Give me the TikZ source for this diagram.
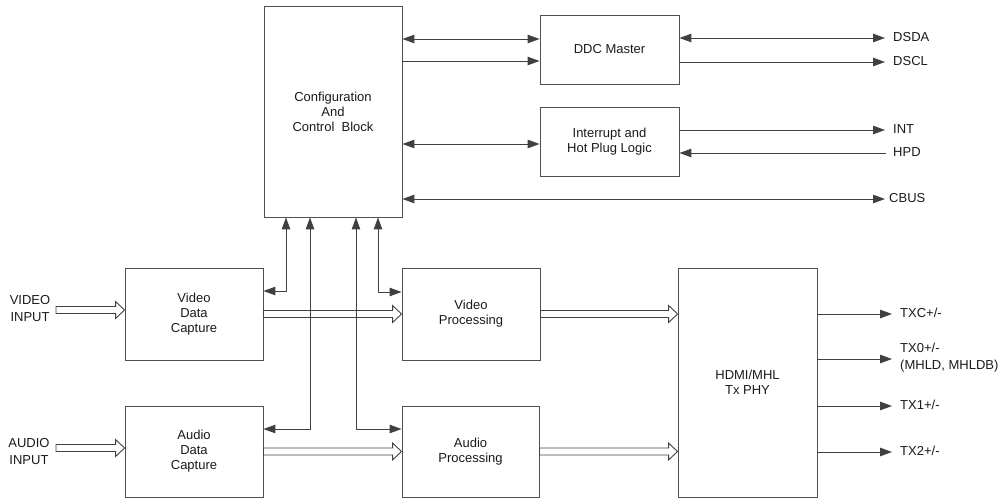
\documentclass[tikz,border=0pt]{standalone}
\usepackage{fontspec}
\setmainfont{Liberation Sans}
\usetikzlibrary{arrows.meta,calc}
\definecolor{linec}{HTML}{404040}
\definecolor{boxc}{HTML}{505050}
\definecolor{txtc}{HTML}{1A1A1A}
\begin{document}
\begin{tikzpicture}[x=1pt,y=-1pt,
  font=\fontsize{13}{15}\selectfont, text=txtc,
  box/.style={draw=boxc, line width=0.9pt, align=center, inner sep=0pt},
  sig/.style={draw=linec, line width=1pt, -{Triangle[length=12pt,width=8.5pt]}},
  bsig/.style={draw=linec, line width=1pt, {Triangle[length=12pt,width=8.5pt]}-{Triangle[length=12pt,width=8.5pt]}},
  rsig/.style={draw=linec, line width=1pt, {Triangle[length=12pt,width=8.5pt]}-},
  lbl/.style={anchor=west, inner sep=0pt, align=left},
  hollow/.style={draw=linec, line width=0.9pt, to path={let \p1=(\tikztostart), \p2=(\tikztotarget) in
     (\x1,\y1+3.5pt) -- (\x2-9pt,\y1+3.5pt) -- (\x2-9pt,\y1+8.5pt) -- (\x2,\y1) -- (\x2-9pt,\y1-8.5pt) -- (\x2-9pt,\y1-3.5pt) -- (\x1,\y1-3.5pt) -- cycle}}
]
\useasboundingbox (0,0) rectangle (1001,498);

% blocks
\node[box, minimum width=138pt, minimum height=211pt] (config) at (333,111.5) {Configuration\\And\\Control\ \ Block};
\node[box, minimum width=139pt, minimum height=69pt] (ddc) at (609.5,49.5) {DDC Master};
\node[box, minimum width=139pt, minimum height=69pt] (intr) at (609.5,141.5) {Interrupt and\\Hot Plug Logic};
\node[box, minimum width=138pt, minimum height=92pt] (vdc) at (194,314) {Video\\Data\\Capture};
\node[box, minimum width=138pt, minimum height=91pt] (adc) at (194,451.5) {Audio\\Data\\Capture};
\node[box, minimum width=138pt, minimum height=92pt] (vp) at (471,314) {Video\\Processing};
\node[box, minimum width=137pt, minimum height=91pt] (ap) at (470.5,451.5) {Audio\\Processing};
\node[box, minimum width=139pt, minimum height=229pt] (hdmi) at (747.5,382.5) {HDMI/MHL\\Tx PHY};

% external end points
\coordinate (dsda) at (885,38);
\coordinate (dscl) at (885,62);
\coordinate (int) at (885,130);
\coordinate (hpd) at (886,153);
\coordinate (cbus) at (885,199);
\coordinate (txc) at (892,314);
\coordinate (tx0) at (892,359);
\coordinate (tx1) at (892,406);
\coordinate (tx2) at (892,452);
\coordinate (vin) at (56,310);
\coordinate (ain) at (56,448);

% labels
\node[lbl] (ldsda) at (893,37) {DSDA};
\node[lbl] (ldscl) at (893,61) {DSCL};
\node[lbl] (lint) at (893,129) {INT};
\node[lbl] (lhpd) at (893,152) {HPD};
\node[lbl] (lcbus) at (889,198) {CBUS};
\node[lbl] (ltxc) at (900,313) {TXC+/-};
\node[lbl, font=\fontsize{13}{17}\selectfont] (ltx0) at (900,358) {TX0+/-\\(MHLD, MHLDB)};
\node[lbl] (ltx1) at (900,405) {TX1+/-};
\node[lbl] (ltx2) at (900,451) {TX2+/-};
\node[align=center, inner sep=0pt, font=\fontsize{13}{17}\selectfont] (lvin) at (30,308.5) {VIDEO\\INPUT};
\node[align=center, inner sep=0pt, font=\fontsize{13}{17}\selectfont] (lain) at (29,451.5) {AUDIO\\INPUT};

% config <-> DDC / interrupt
\draw[bsig] ([yshift=10.5pt]ddc.west -| config.east) -- ([yshift=10.5pt]ddc.west);
\draw[sig] ([yshift=-11.5pt]ddc.west -| config.east) -- ([yshift=-11.5pt]ddc.west);
\draw[bsig] ([yshift=-2.5pt]intr.west -| config.east) -- ([yshift=-2.5pt]intr.west);
\draw[bsig] ([yshift=-87.5pt]config.east) -- (cbus);

% DDC / interrupt outputs
\draw[bsig] (ddc.east |- dsda) -- (dsda);
\draw[sig] (ddc.east |- dscl) -- (dscl);
\draw[sig] (intr.east |- int) -- (int);
\draw[rsig] (intr.east |- hpd) -- (hpd);

% config <-> data path
\draw[bsig] ([yshift=23pt]vdc.east) -| ([xshift=-47pt]config.south);
\draw[bsig] ([yshift=22.5pt]adc.east) -| ([xshift=-23pt]config.south);
\draw[bsig] ([xshift=23pt]config.south) |- ([yshift=22.5pt]ap.west);
\draw[bsig] ([xshift=45pt]config.south) |- ([yshift=22pt]vp.west);

% hollow data arrows
\draw[hollow] (vin) to (vdc.west);
\draw[hollow] (ain) to (adc.west);
\draw[hollow] (vdc.east) to (vp.west);
\draw[hollow] (adc.east) to (ap.west);
\draw[hollow] (vp.east) to (hdmi.west |- vp.east);
\draw[hollow] (ap.east) to (hdmi.west |- ap.east);

% HDMI outputs
\draw[sig] (hdmi.east |- txc) -- (txc);
\draw[sig] (hdmi.east |- tx0) -- (tx0);
\draw[sig] (hdmi.east |- tx1) -- (tx1);
\draw[sig] (hdmi.east |- tx2) -- (tx2);
\end{tikzpicture}
\end{document}
